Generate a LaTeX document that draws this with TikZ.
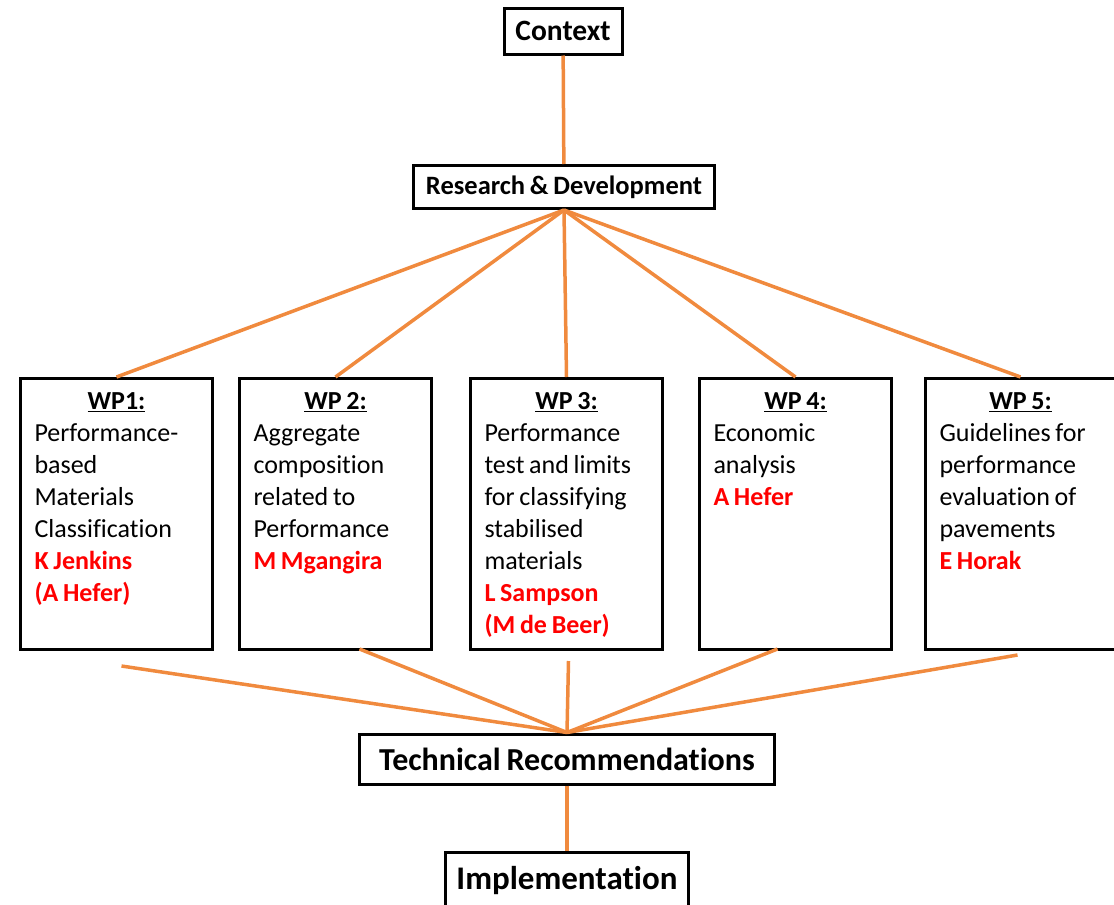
\documentclass[tikz,border=0pt]{standalone}
\usepackage{fontspec}
\setmainfont{Carlito}[Ligatures=NoCommon, WordSpace=0.8]
\usetikzlibrary{positioning,calc}
\definecolor{linkorange}{RGB}{240,138,62}
\newcommand{\wphead}[1]{\makebox[\linewidth][c]{\textbf{\underline{#1}}}}
\newcommand{\lead}[1]{\textcolor{red}{\textbf{#1}}}

\begin{document}
\begin{tikzpicture}[
    x=1pt, y=-1pt,
    box/.style={draw, line width=3pt, inner sep=0pt},
    wp/.style={draw, line width=3pt, anchor=north west, text width=164pt, align=flush left,
        inner xsep=14pt, inner ysep=3pt, text height=28pt, text depth=237pt,
        font=\fontsize{26}{32}\selectfont},
    link/.style={draw=linkorange, line width=3.5pt}
]
\useasboundingbox (0,0) rectangle (1114,905);

% top of the tree
\node[box, minimum width=118pt, minimum height=46pt, font=\fontsize{29.5}{32}\selectfont\bfseries] (ctx) at (563,31) {Context};
\node[box, minimum width=301pt, minimum height=43pt, font=\fontsize{26.5}{32}\selectfont\bfseries] (rd) at (564,187) {Research \& Development};

% work packages
\node[wp] (wp1) at (19,377) {\wphead{WP1:}\\Performance-\\based\\Materials\\Classification\\\lead{K Jenkins}\\\lead{(A Hefer)}};
\node[wp] (wp2) at (238,377) {\wphead{WP 2:}\\Aggregate\\composition\\related to\\Performance\\\lead{M Mgangira}};
\node[wp] (wp3) at (469,377) {\wphead{WP 3:}\\Performance\\test and limits\\for classifying\\stabilised\\materials\\\lead{L Sampson}\\\lead{(M de Beer)}};
\node[wp] (wp4) at (698,377) {\wphead{WP 4:}\\Economic\\analysis\\\lead{A Hefer}};
\node[wp, text width=162pt] (wp5) at (924,377) {\wphead{WP 5:}\\Guidelines for\\performance\\evaluation of\\pavements\\\lead{E Horak}};

% bottom of the tree
\node[box, minimum width=415pt, minimum height=50pt, font=\fontsize{32}{34}\selectfont\bfseries] (tech) at (567,759) {Technical Recommendations};
\node[box, minimum width=243pt, minimum height=58pt, font=\fontsize{33}{34}\selectfont\bfseries] (impl) at (567,881) {Implementation};

% connectors
\draw[link] (ctx) -- (rd);
\foreach \n in {1,...,5}
  \draw[link] (rd.south) -- (wp\n.north);
\foreach \n/\dx/\dy in {1/5/-15, 2/24/2, 3/2/-10, 4/-18/2, 5/-3/-4}
  \draw[link] ([xshift=\dx pt, yshift=\dy pt]wp\n.south) -- (tech.north);
\draw[link] (tech) -- (impl);

\end{tikzpicture}
\end{document}
